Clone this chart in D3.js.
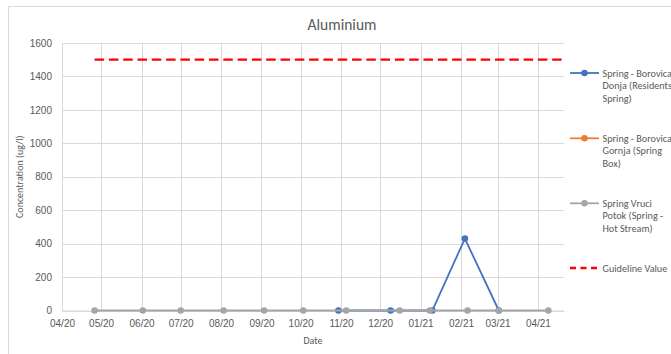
<!DOCTYPE html>
<html>
<head>
<meta charset="utf-8">
<script src="https://cdn.jsdelivr.net/npm/d3@7"></script>
<style>
body { margin: 0; background: #fff; }
svg { display: block; font-family: Calibri, Carlito, Lato, sans-serif; }
</style>
</head>
<body>
<svg id="chart" width="671" height="354"></svg>
<script>
// data
var yTicks = [0, 200, 400, 600, 800, 1000, 1200, 1400, 1600];
var monthTicks = ["2020-04-01","2020-05-01","2020-06-01","2020-07-01","2020-08-01","2020-09-01","2020-10-01","2020-11-01","2020-12-01","2021-01-01","2021-02-01","2021-03-01","2021-04-01"];
var donjaDates = ["2020-10-30","2020-12-09","2021-01-10","2021-02-04","2021-03-02"];
var donjaValues = [0, 0, 0, 430, 0];
var gornjaDates = [];
var gornjaValues = [];
var vruciDates = ["2020-04-26","2020-06-02","2020-07-01","2020-08-03","2020-09-03","2020-10-03","2020-11-05","2020-12-16","2021-01-08","2021-02-06","2021-03-02","2021-04-09"];
var vruciValues = [0, 0, 0, 0, 0, 0, 0, 0, 0, 0, 0, 0];
var guideDates = ["2020-04-26","2021-04-21"];
var guideValues = [1500, 1500];
var seriesNames = ["Spring - Borovica Donja (Residents Spring)", "Spring - Borovica Gornja (Spring Box)", "Spring Vruci Potok (Spring - Hot Stream)", "Guideline Value"];

var parse = d3.timeParse("%Y-%m-%d");
function zip(dates, vals) {
	return dates.map(function (d, i) { return {date: parse(d), value: vals[i]}; });
}
var series = [
	{name: seriesNames[0], color: "#4472C4", pts: zip(donjaDates, donjaValues), marker: true},
	{name: seriesNames[1], color: "#ED7D31", pts: zip(gornjaDates, gornjaValues), marker: true},
	{name: seriesNames[2], color: "#A5A5A5", pts: zip(vruciDates, vruciValues), marker: true},
	{name: seriesNames[3], color: "#FF0000", pts: zip(guideDates, guideValues), marker: false, dash: "9.5,4.8"}
];

var svg = d3.select("#chart");
var txt = "#595959";
var grid = "#D9D9D9";

// chart frame
svg.append("rect").attr("x", 8.5).attr("y", 6.5).attr("width", 700).attr("height", 400).attr("fill", "none").attr("stroke", grid);

var pLeft = 62, pRight = 564, pTop = 43, pBottom = 310.5;
var x = d3.scaleTime().domain([parse("2020-04-01"), parse("2021-04-21")]).range([pLeft, pRight]);
var y = d3.scaleLinear().domain([0, 1600]).range([pBottom, pTop]);

// gridlines
svg.append("g").selectAll("line").data(yTicks).join("line")
	.attr("x1", pLeft).attr("x2", pRight)
	.attr("y1", function (d) { return Math.round(y(d)) + 0.5; }).attr("y2", function (d) { return Math.round(y(d)) + 0.5; })
	.attr("stroke", grid);
svg.append("g").selectAll("line").data(monthTicks.map(parse)).join("line")
	.attr("x1", function (d) { return Math.round(x(d)) + 0.5; }).attr("x2", function (d) { return Math.round(x(d)) + 0.5; })
	.attr("y1", pTop).attr("y2", pBottom)
	.attr("stroke", grid);

// axes
var yAxis = svg.append("g").attr("transform", "translate(" + pLeft + ",0)")
	.call(d3.axisLeft(y).tickValues(yTicks).tickFormat(d3.format("d")).tickSize(0).tickPadding(10));
yAxis.select(".domain").remove();
yAxis.selectAll("text").attr("fill", txt).attr("font-size", "10px").attr("font-family", null);

var xAxis = svg.append("g").attr("transform", "translate(0," + pBottom + ")")
	.call(d3.axisBottom(x).tickValues(monthTicks.map(parse)).tickFormat(d3.timeFormat("%m/%y")).tickSize(0).tickPadding(9));
xAxis.select(".domain").attr("stroke", grid);
xAxis.selectAll("text").attr("fill", txt).attr("font-size", "10px").attr("font-family", null);

// titles
svg.append("text").attr("x", 342).attr("y", 30).attr("text-anchor", "middle").attr("fill", txt).attr("font-size", "15.5px").text("Aluminium");
svg.append("text").attr("x", (pLeft + pRight) / 2).attr("y", 344).attr("text-anchor", "middle").attr("fill", txt).attr("font-size", "10px").text("Date");
svg.append("text").attr("transform", "translate(23," + ((pTop + pBottom) / 2) + ") rotate(-90)").attr("text-anchor", "middle").attr("fill", txt).attr("font-size", "10px").text("Concentration (ug/l)");

// series
var line = d3.line().x(function (d) { return x(d.date); }).y(function (d) { return y(d.value); });
series.forEach(function (s) {
	var g = svg.append("g");
	g.append("path").datum(s.pts).attr("d", line).attr("fill", "none").attr("stroke", s.color)
		.attr("stroke-width", s.marker ? 1.8 : 2.3).attr("stroke-dasharray", s.dash || null);
	if (s.marker) {
		g.selectAll("circle").data(s.pts).join("circle")
			.attr("cx", function (d) { return x(d.date); }).attr("cy", function (d) { return y(d.value); })
			.attr("r", 3.3).attr("fill", s.color);
	}
});

// legend
var legendRows = [73, 138.3, 203.3, 268];
var wrapped = [["Spring - Borovica", "Donja (Residents", "Spring)"], ["Spring - Borovica", "Gornja (Spring", "Box)"], ["Spring Vruci", "Potok (Spring -", "Hot Stream)"], ["Guideline Value"]];
series.forEach(function (s, i) {
	var g = svg.append("g").attr("transform", "translate(0," + legendRows[i] + ")");
	g.append("line").attr("x1", 570).attr("x2", 599).attr("y1", 0).attr("y2", 0).attr("stroke", s.color)
		.attr("stroke-width", s.marker ? 1.8 : 2.3).attr("stroke-dasharray", s.dash ? "6,4.5" : null);
	if (s.marker) g.append("circle").attr("cx", 584.5).attr("cy", 0).attr("r", 3.3).attr("fill", s.color);
	var t = g.append("text").attr("x", 602.5).attr("y", 3.5).attr("fill", txt).attr("font-size", "10.2px");
	wrapped[i].forEach(function (w, j) {
		t.append("tspan").attr("x", 602.5).attr("dy", j === 0 ? 0 : 12.7).text(w);
	});
});
</script>
</body>
</html>
